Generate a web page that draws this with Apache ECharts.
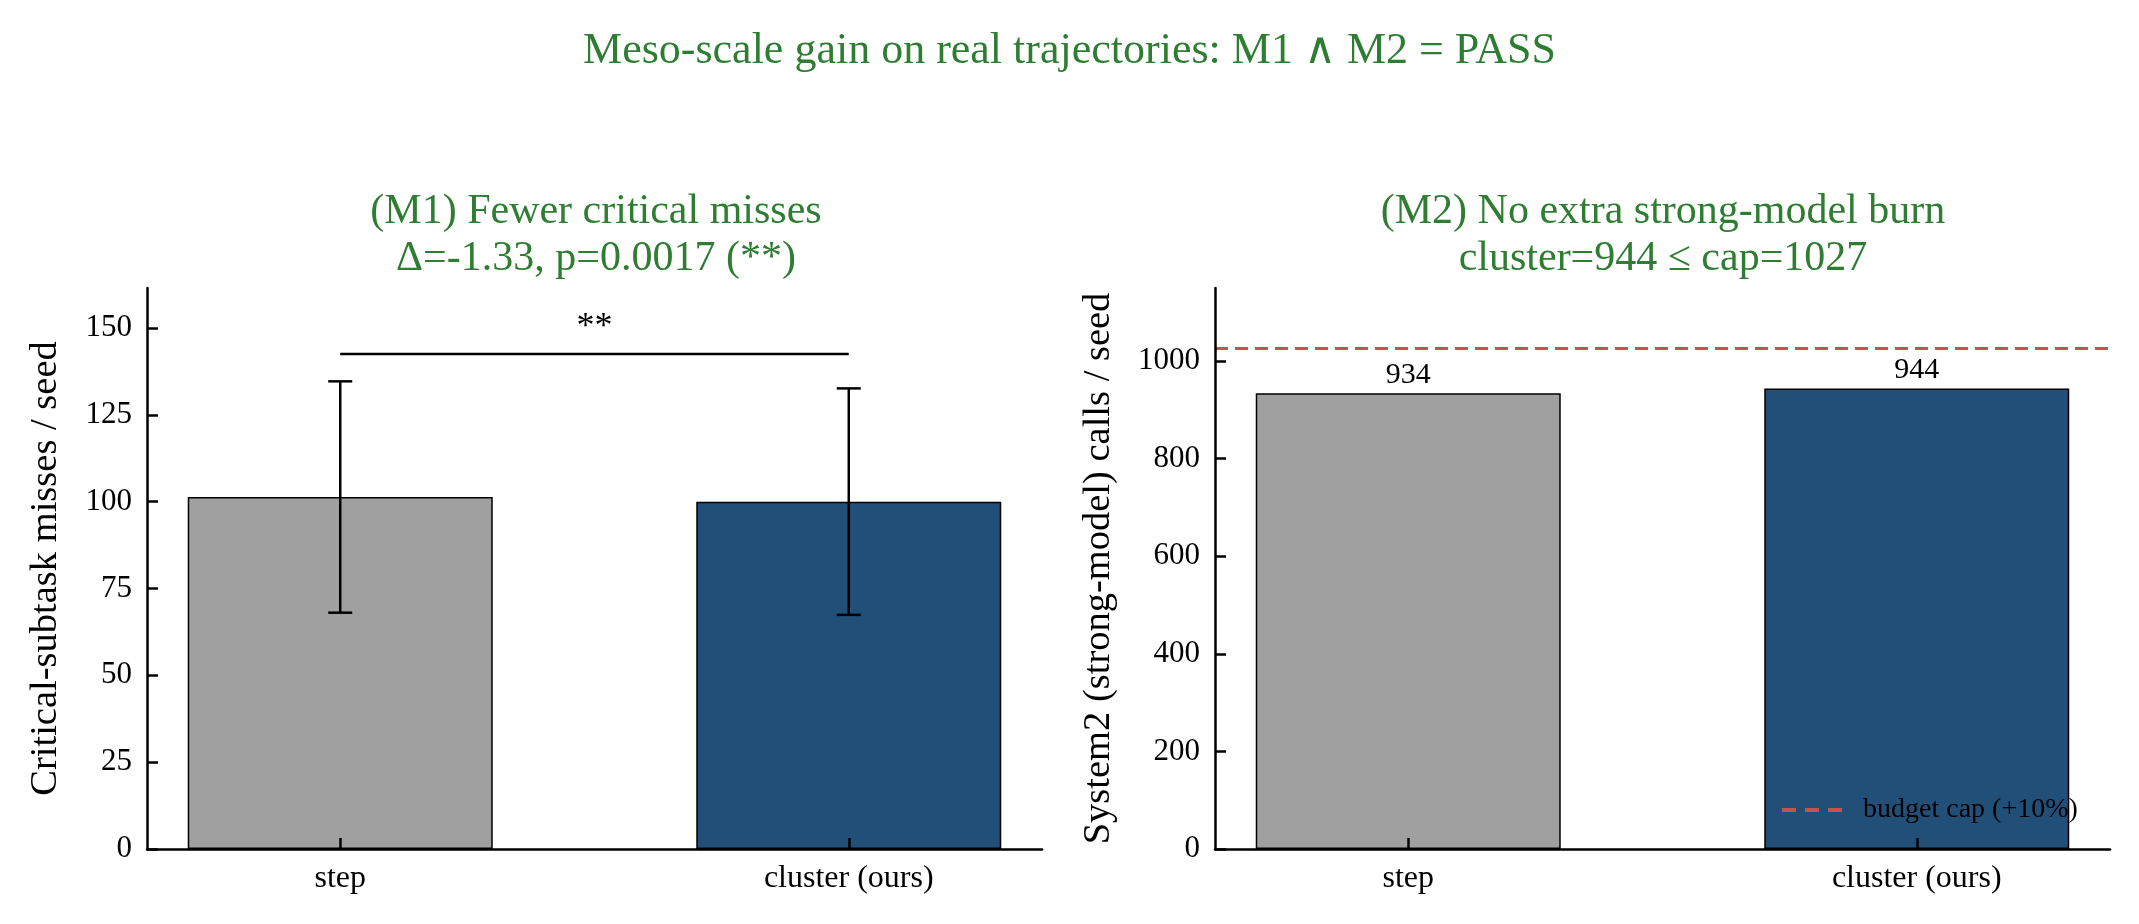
<!DOCTYPE html>
<html>
<head>
<meta charset="utf-8">
<script src="https://cdn.jsdelivr.net/npm/echarts@6/dist/echarts.min.js"></script>
<style>
  html, body { margin: 0; padding: 0; background: #fff; }
  #chart { width: 2139px; height: 924px; }
</style>
</head>
<body>
<div id="chart"></div>
<script>
// ---- data ----
const categories = ["step", "cluster (ours)"];
const missMean = [101.33, 100.0];
const missSd = [33.3, 32.6];
const missTicks = [0, 25, 50, 75, 100, 125, 150];
const missMax = 161.5;
const sigY = 142.5;
const sigLabel = "**";

const callsMean = [934, 944];
const callsTicks = [0, 200, 400, 600, 800, 1000];
const callsMax = 1150;
const budgetCap = 1027;
const capName = "budget cap (+10%)";

const suptitle = "Meso-scale gain on real trajectories: M1 \u2227 M2 = PASS";
const m1Title = ["(M1) Fewer critical misses", "\u0394=-1.33, p=0.0017 (**)"];
const m2Title = ["(M2) No extra strong-model burn", "cluster=944 \u2264 cap=1027"];

const FONT = "'Liberation Serif', 'Times New Roman', serif";
const GREEN = "#2e7d32";
const barColors = ["#a0a0a0", "#214f78"];
const CAP_RED = "#c9514c";

const chart = echarts.init(document.getElementById("chart"));

function xAxisCfg(gridIndex) {
  return {
    type: "value",
    gridIndex: gridIndex,
    min: -0.38,
    max: 1.38,
    z: 5,
    axisLine: { show: true, onZero: false, lineStyle: { color: "#000", width: 2.5 } },
    axisTick: { show: true, inside: true, length: 11, customValues: [0, 1], lineStyle: { color: "#000", width: 2.5 } },
    axisLabel: {
      customValues: [0, 1],
      formatter: v => categories[v],
      color: "#000", fontSize: 32, fontFamily: FONT, margin: 14
    },
    splitLine: { show: false }
  };
}

function yAxisCfg(gridIndex, max, ticks, name, gap) {
  return {
    type: "value",
    gridIndex: gridIndex,
    min: 0,
    max: max,
    z: 5,
    name: name,
    nameLocation: "middle",
    nameGap: gap,
    nameTextStyle: { color: "#000", fontSize: 38.5, fontFamily: FONT },
    axisLine: { show: true, onZero: false, lineStyle: { color: "#000", width: 2.5 } },
    axisTick: { show: true, inside: true, length: 11, customValues: ticks, lineStyle: { color: "#000", width: 2.5 } },
    axisLabel: { customValues: ticks, formatter: v => String(v), color: "#000", fontSize: 31, fontFamily: FONT, margin: 15 },
    splitLine: { show: false }
  };
}

const option = {
  backgroundColor: "#fff",
  animation: false,
  title: [
    {
      text: suptitle, left: "center", top: 24,
      textStyle: { color: GREEN, fontSize: 44, fontWeight: "normal", fontFamily: FONT }
    },
    {
      text: m1Title.join("\n"), left: 591, top: 183, textAlign: "center",
      textStyle: { color: GREEN, fontSize: 42, lineHeight: 47, fontWeight: "normal", fontFamily: FONT }
    },
    {
      text: m2Title.join("\n"), left: 1658, top: 183, textAlign: "center",
      textStyle: { color: GREEN, fontSize: 42, lineHeight: 47, fontWeight: "normal", fontFamily: FONT }
    }
  ],
  legend: {
    data: [{
      name: capName,
      icon: "path://M0 0H14V4H0Z M23 0H37V4H23Z M46 0H60V4H46Z",
      itemStyle: { color: CAP_RED }
    }],
    left: 1777,
    top: 791,
    itemWidth: 60,
    itemHeight: 4,
    textStyle: { color: "#000", fontSize: 28, fontFamily: FONT, padding: [0, 0, 0, 16] }
  },
  grid: [
    { left: 147, top: 288, width: 895, height: 561 },
    { left: 1215, top: 288, width: 895, height: 561 }
  ],
  xAxis: [xAxisCfg(0), xAxisCfg(1)],
  yAxis: [
    yAxisCfg(0, missMax, missTicks, "Critical-subtask misses / seed", 82),
    yAxisCfg(1, callsMax, callsTicks, "System2 (strong-model) calls / seed", 97)
  ],
  series: [
    {
      type: "bar",
      xAxisIndex: 0, yAxisIndex: 0,
      barWidth: 305,
      itemStyle: { borderColor: "#000", borderWidth: 1.5 },
      data: missMean.map((m, i) => ({ value: [i, m], itemStyle: { color: barColors[i] } }))
    },
    {
      // error bars (mean +/- sd)
      type: "custom",
      xAxisIndex: 0, yAxisIndex: 0,
      z: 5,
      encode: { x: 0, y: [1, 2] },
      data: missMean.map((m, i) => [i, m - missSd[i], m + missSd[i]]),
      renderItem: function (params, api) {
        const lo = api.coord([api.value(0), api.value(1)]);
        const hi = api.coord([api.value(0), api.value(2)]);
        const cap = 12;
        const st = { stroke: "#000", lineWidth: 2.5 };
        return {
          type: "group",
          children: [
            { type: "line", shape: { x1: lo[0], y1: lo[1], x2: hi[0], y2: hi[1] }, style: st },
            { type: "line", shape: { x1: lo[0] - cap, y1: lo[1], x2: lo[0] + cap, y2: lo[1] }, style: st },
            { type: "line", shape: { x1: hi[0] - cap, y1: hi[1], x2: hi[0] + cap, y2: hi[1] }, style: st }
          ]
        };
      }
    },
    {
      // significance bracket
      type: "custom",
      xAxisIndex: 0, yAxisIndex: 0,
      z: 5,
      encode: { x: [0, 1], y: 2 },
      data: [[0, 1, sigY]],
      renderItem: function (params, api) {
        const a = api.coord([api.value(0), api.value(2)]);
        const b = api.coord([api.value(1), api.value(2)]);
        return {
          type: "group",
          children: [
            { type: "line", shape: { x1: a[0], y1: a[1], x2: b[0], y2: b[1] }, style: { stroke: "#000", lineWidth: 2.5 } },
            {
              type: "text",
              style: {
                x: (a[0] + b[0]) / 2, y: a[1] - 8,
                text: sigLabel, fill: "#000",
                font: "36px " + FONT,
                align: "center", verticalAlign: "bottom"
              }
            }
          ]
        };
      }
    },
    {
      type: "bar",
      xAxisIndex: 1, yAxisIndex: 1,
      barWidth: 305,
      itemStyle: { borderColor: "#000", borderWidth: 1.5 },
      label: { show: true, position: "top", distance: 3, color: "#000", fontSize: 30, fontFamily: FONT },
      data: callsMean.map((m, i) => ({ value: [i, m], itemStyle: { color: barColors[i] } })),
      markLine: {
        silent: true,
        symbol: ["none", "none"],
        label: { show: false },
        lineStyle: { color: CAP_RED, type: [13, 7], width: 3 },
        data: [{ yAxis: budgetCap }]
      }
    },
    {
      // legend entry for the budget cap line
      name: capName,
      type: "line",
      xAxisIndex: 1, yAxisIndex: 1,
      symbol: "none",
      lineStyle: { color: CAP_RED, type: [13, 7], width: 3 },
      itemStyle: { color: CAP_RED },
      data: []
    }
  ]
};

chart.setOption(option);
</script>
</body>
</html>
